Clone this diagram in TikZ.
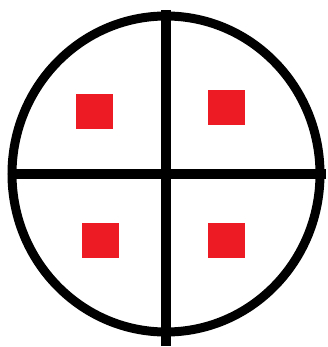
\documentclass[tikz,border=0pt]{standalone}
\usepackage{xcolor}
\definecolor{myred}{RGB}{237,28,36}
\tikzset{redsq/.style={fill=myred, inner sep=0pt, minimum width=37pt, minimum height=35pt}}

\begin{document}
\begin{tikzpicture}[x=1pt,y=-1pt]
  \useasboundingbox (0,0) rectangle (328,347);
  \def\cx{166}
  \def\cy{174}

  \draw[line width=9pt] (\cx,\cy) ellipse [x radius=154, y radius=158];
  \draw[line width=10pt] (\cx,10) -- (\cx,346);
  \draw[line width=10pt] (8,\cy) -- (326,\cy);

  \node[redsq] (tl) at (94,112) {};
  \node[redsq] (tr) at (226.5,108) {};
  \node[redsq] (bl) at (100.5,240.5) {};
  \node[redsq] (br) at (226.5,240.5) {};
\end{tikzpicture}
\end{document}
